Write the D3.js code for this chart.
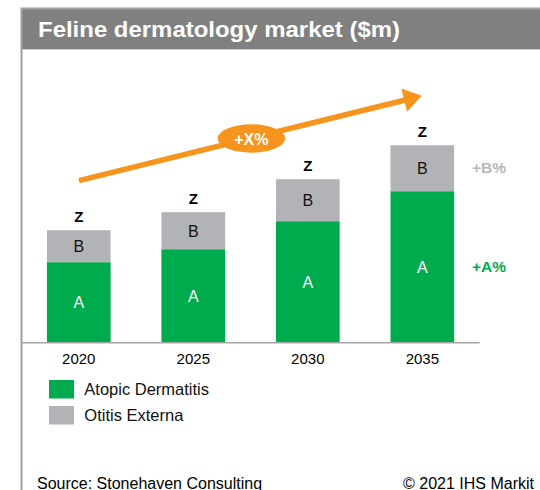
<!DOCTYPE html>
<html>
<head>
<meta charset="utf-8">
<script src="https://cdn.jsdelivr.net/npm/d3@7"></script>
<style>
  body { margin: 0; background: #fff; }
  svg { display: block; font-family: "Liberation Sans", Arial, sans-serif; }
</style>
</head>
<body>
<svg width="540" height="490"></svg>
<script>
// chart values
var years = ["2020", "2025", "2030", "2035"];
var atopic = [80, 93, 121, 151];
var otitis = [32, 37, 42, 46];
var totalLabels = ["Z", "Z", "Z", "Z"];
var segLabels = ["A", "B"];
var seriesNames = ["Atopic Dermatitis", "Otitis Externa"];

var green = "#00ab4e", grey = "#b2b3b6", orange = "#f7941d";

var svg = d3.select("svg");

// frame + title bar
svg.append("rect").attr("x", 20.5).attr("y", 7.5).attr("width", 520).attr("height", 42).attr("fill", "#a0a0a0");
svg.append("rect").attr("x", 22.5).attr("y", 9.5).attr("width", 518).attr("height", 39.5).attr("fill", "#808080");
svg.append("rect").attr("x", 20.5).attr("y", 49).attr("width", 2).attr("height", 441).attr("fill", "#a0a0a0");
svg.append("text")
    .attr("x", 38).attr("y", 36.5)
    .attr("fill", "#fff").attr("font-weight", "bold").attr("font-size", 22)
    .attr("textLength", 362).attr("lengthAdjust", "spacingAndGlyphs")
    .text("Feline dermatology market ($m)");

var x = d3.scaleBand().domain(years).range([21.4, 479.7]).paddingInner(0.444).paddingOuter(0.223);
var y = d3.scaleLinear().domain([0, 200]).range([342.2, 142.2]);

var rows = years.map(function(yr, i) {
    return { year: yr, a: atopic[i], b: otitis[i], z: totalLabels[i] };
});
var stack = d3.stack().keys(["a", "b"])(rows);
var colors = [green, grey];

var layer = svg.selectAll(".layer")
    .data(stack)
    .enter().append("g")
    .attr("class", "layer");

layer.each(function(s, k) {
    var g = d3.select(this);
    g.selectAll("rect")
        .data(s)
        .enter().append("rect")
        .attr("x", function(d) { return x(d.data.year); })
        .attr("width", x.bandwidth())
        .attr("y", function(d) { return y(d[1]); })
        .attr("height", function(d) { return y(d[0]) - y(d[1]); })
        .attr("fill", colors[k]);
    g.selectAll("text")
        .data(s)
        .enter().append("text")
        .attr("x", function(d) { return x(d.data.year) + x.bandwidth() / 2; })
        .attr("y", function(d) { return (y(d[0]) + y(d[1])) / 2 + 6; })
        .attr("text-anchor", "middle")
        .attr("font-size", 16)
        .attr("fill", k == 0 ? "#fff" : "#111")
        .text(segLabels[k]);
});

// totals
svg.selectAll(".total")
    .data(rows)
    .enter().append("text")
    .attr("class", "total")
    .attr("x", function(d) { return x(d.year) + x.bandwidth() / 2; })
    .attr("y", function(d) { return y(d.a + d.b) - 8.5; })
    .attr("text-anchor", "middle")
    .attr("font-size", 15).attr("font-weight", "bold")
    .text(function(d) { return d.z; });

// axis
var axis = svg.append("g")
    .attr("transform", "translate(0," + y(0) + ")")
    .call(d3.axisBottom(x).tickSize(0).tickPadding(0));
axis.select(".domain").attr("stroke", "#a6a6a6").attr("stroke-width", 1.5).attr("d", "M21.4,0.5H479.7");
axis.selectAll("text")
    .attr("dy", null).attr("y", 22)
    .attr("font-size", 15).attr("fill", "#000").attr("font-family", "Liberation Sans, Arial, sans-serif");

// growth labels on the right
var last = rows[rows.length - 1];
svg.append("text")
    .attr("x", 472).attr("y", (y(last.a) + y(last.a + last.b)) / 2 + 5)
    .attr("fill", "#b7b7b7").attr("font-weight", "bold").attr("font-size", 15.5)
    .text("+B%");
svg.append("text")
    .attr("x", 472).attr("y", (y(0) + y(last.a)) / 2 + 5)
    .attr("fill", green).attr("font-weight", "bold").attr("font-size", 15.5)
    .text("+A%");

// growth arrow
var x0 = 79, y0 = 180.7, tipX = 421.7, tipY = 95.7;
var ang = Math.atan2(tipY - y0, tipX - x0);
var headLen = 18, headHalf = 12;
var bx = tipX - headLen * Math.cos(ang), by = tipY - headLen * Math.sin(ang);
svg.append("line")
    .attr("x1", x0).attr("y1", y0)
    .attr("x2", bx + 1).attr("y2", by)
    .attr("stroke", orange).attr("stroke-width", 5.5);
svg.append("path")
    .attr("d", d3.line()([
        [tipX, tipY],
        [bx + headHalf * Math.sin(ang), by - headHalf * Math.cos(ang)],
        [bx - headHalf * Math.sin(ang), by + headHalf * Math.cos(ang)]
    ]) + "Z")
    .attr("fill", orange);

svg.append("ellipse")
    .attr("cx", 251.4).attr("cy", 138.5).attr("rx", 33.7).attr("ry", 14.2)
    .attr("fill", orange);
svg.append("text")
    .attr("x", 251.4).attr("y", 144.5)
    .attr("text-anchor", "middle")
    .attr("fill", "#fff").attr("font-weight", "bold").attr("font-size", 16)
    .text("+X%");

// legend
var legend = svg.selectAll(".legend")
    .data(seriesNames)
    .enter().append("g")
    .attr("class", "legend")
    .attr("transform", function(d, i) { return "translate(49," + (380 + i * 26) + ")"; });
legend.append("rect").attr("width", 25).attr("height", 18.5)
    .attr("fill", function(d, i) { return colors[i]; });
legend.append("text").attr("x", 35.3).attr("y", 15)
    .attr("font-size", 16.5).attr("fill", "#111")
    .text(function(d) { return d; });

// footer
svg.append("text").attr("x", 37).attr("y", 488.5).attr("font-size", 16).text("Source: Stonehaven Consulting");
svg.append("text").attr("x", 534).attr("y", 488.5).attr("text-anchor", "end").attr("font-size", 16).text("\u00a9 2021 IHS Markit");
</script>
</body>
</html>
